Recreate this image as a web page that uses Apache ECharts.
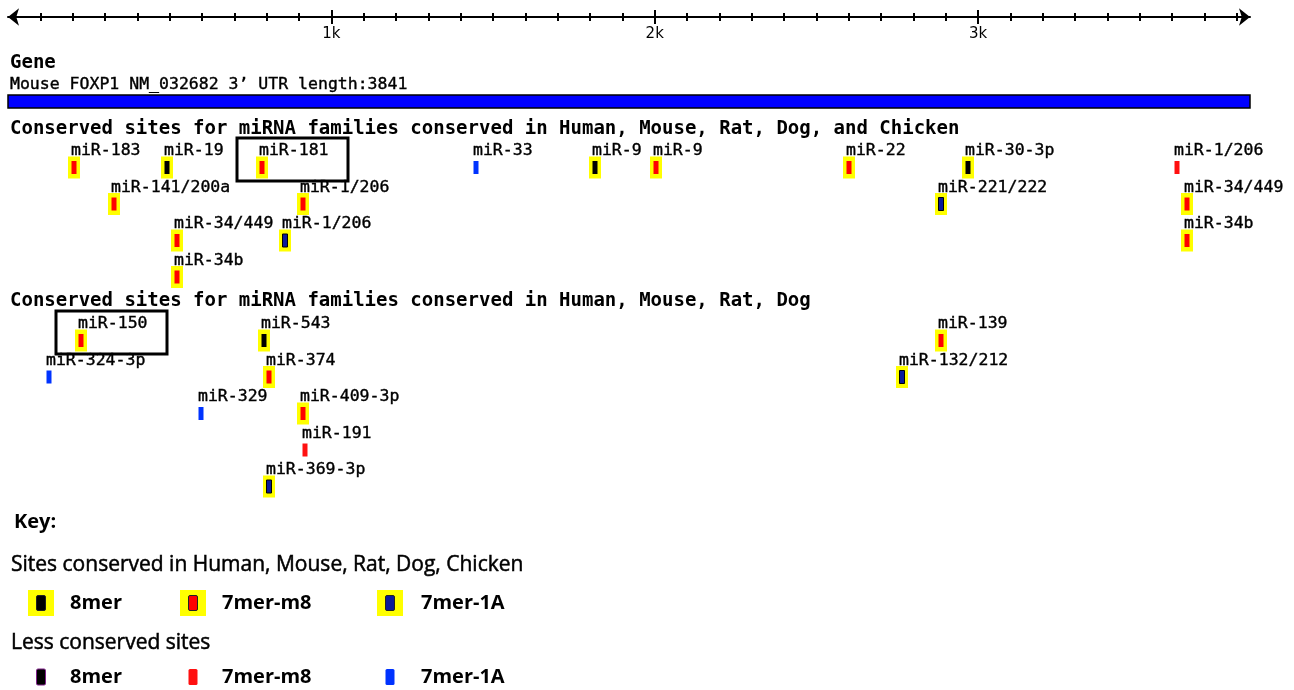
<!DOCTYPE html>
<html>
<head>
<meta charset="utf-8">
<script src="https://cdn.jsdelivr.net/npm/echarts@6/dist/echarts.min.js"></script>
<style>
  html, body { margin: 0; padding: 0; background: #fff; }
  #chart { width: 1294px; height: 690px; }
</style>
</head>
<body>
<div id="chart"></div>
<script>
    // Chiều dài 3' UTR và các vạch trên thước
    const utrLength = 3841;
    const minorTicks = [100, 200, 300, 400, 500, 600, 700, 800, 900, 1000,
        1100, 1200, 1300, 1400, 1500, 1600, 1700, 1800, 1900, 2000,
        2100, 2200, 2300, 2400, 2500, 2600, 2700, 2800, 2900, 3000,
        3100, 3200, 3300, 3400, 3500, 3600, 3700, 3800];
    const majorTicks = [1000, 2000, 3000];
    const tickLabels = ['1k', '2k', '3k'];

    // Nhóm 1: bảo tồn ở Human, Mouse, Rat, Dog, Chicken
    const s1Names = ['miR-183', 'miR-19', 'miR-181', 'miR-33', 'miR-9', 'miR-9', 'miR-22', 'miR-30-3p', 'miR-1/206',
        'miR-141/200a', 'miR-1/206', 'miR-221/222', 'miR-34/449',
        'miR-34/449', 'miR-1/206', 'miR-34b',
        'miR-34b'];
    const s1Pos = [204, 492, 785, 1447, 1815, 2004, 2601, 2969, 3615,
        329, 912, 2885, 3646,
        524, 857, 3646,
        524];
    const s1Row = [0, 0, 0, 0, 0, 0, 0, 0, 0,
        1, 1, 1, 1,
        2, 2, 2,
        3];
    const s1Type = ['7mer-m8', '8mer', '7mer-m8', '7mer-1A', '8mer', '7mer-m8', '7mer-m8', '8mer', '7mer-m8',
        '7mer-m8', '7mer-m8', '7mer-1A', '7mer-m8',
        '7mer-m8', '7mer-1A', '7mer-m8',
        '7mer-m8'];
    const s1Conserved = [1, 1, 1, 0, 1, 1, 1, 1, 0,
        1, 1, 1, 1,
        1, 1, 1,
        1];
    const s1Boxed = ['miR-181'];

    // Nhóm 2: bảo tồn ở Human, Mouse, Rat, Dog
    const s2Names = ['miR-150', 'miR-543', 'miR-139',
        'miR-324-3p', 'miR-374', 'miR-132/212',
        'miR-329', 'miR-409-3p',
        'miR-191',
        'miR-369-3p'];
    const s2Pos = [226, 792, 2885,
        127, 807, 2765,
        597, 912,
        917,
        807];
    const s2Row = [0, 0, 0, 1, 1, 1, 2, 2, 3, 4];
    const s2Type = ['7mer-m8', '8mer', '7mer-m8',
        '7mer-1A', '7mer-m8', '7mer-1A',
        '7mer-1A', '7mer-m8',
        '7mer-m8',
        '7mer-1A'];
    const s2Conserved = [1, 1, 1, 0, 1, 1, 0, 1, 0, 1];
    const s2Boxed = ['miR-150'];

    const keyTypes = ['8mer', '7mer-m8', '7mer-1A'];

    const colorsCons = { '8mer': '#000000', '7mer-m8': '#ff0000', '7mer-1A': '#0a1a9a' };
    const colorsLess = { '8mer': '#000000', '7mer-m8': '#ff1010', '7mer-1A': '#0033ff' };
    const monoFont = '16.5px "DejaVu Sans Mono"';
    const monoBold = 'bold 19px "DejaVu Sans Mono"';

    function siteRenderer(names, types, cons, boxed) {
        return function (params, api) {
            const i = params.dataIndex;
            const p = api.coord([api.value(0), api.value(1)]);
            const x = Math.round(p[0]);
            const y = p[1];
            const my = y + 16.5;
            const kids = [];
            const c = cons[i] ? colorsCons[types[i]] : colorsLess[types[i]];
            if (cons[i]) {
                kids.push({ type: 'rect', shape: { x: x - 6, y: my - 11, width: 12, height: 22 }, style: { fill: '#ffff00' } });
            }
            kids.push({ type: 'rect', shape: { x: x - 2.5, y: my - 6.5, width: 5, height: 13 },
                style: { fill: c, stroke: cons[i] && types[i] === '7mer-1A' ? '#000' : null, lineWidth: 1 } });
            kids.push({ type: 'text', style: { text: names[i], x: x - 3, y: y, font: monoFont, fill: '#000',
                stroke: '#000', lineWidth: 0.4, verticalAlign: 'middle', align: 'left' } });
            if (boxed.includes(names[i])) {
                kids.push({ type: 'rect', shape: { x: x - 25, y: y - 13, width: 111, height: 43 },
                    style: { fill: 'none', stroke: '#000', lineWidth: 3 } });
            }
            return { type: 'group', children: kids };
        };
    }

    function rulerAxis(values, inside, len, extra) {
        return Object.assign({
            gridIndex: 0, type: 'value', position: 'top', min: 0, max: utrLength,
            splitLine: { show: false },
            axisLine: { show: false, onZero: false },
            axisLabel: { show: false },
            axisTick: { show: true, inside: inside, length: len, customValues: values, lineStyle: { color: '#000', width: 2 } }
        }, extra || {});
    }

    function textEl(text, x, y, font, stroke) {
        return { type: 'text', x: x, y: y, style: { text: text, font: font, fill: '#000',
            stroke: stroke ? '#000' : null, lineWidth: stroke || 0, verticalAlign: 'middle' } };
    }

    // Phần chú thích (Key)
    const keyBoxX = [28, 180, 377];
    const keyTextX = [70, 222, 421];
    const keyEls = [
        textEl('Key:', 14, 522, 'bold 20px "Open Sans"'),
        textEl('Sites conserved in Human, Mouse, Rat, Dog, Chicken', 11, 565, '21px "Open Sans"', 0.5),
        textEl('Less conserved sites', 11, 643, '21px "Open Sans"', 0.5)
    ];
    keyTypes.forEach((t, k) => {
        keyEls.push({ type: 'rect', shape: { x: keyBoxX[k], y: 590, width: 26, height: 26 }, style: { fill: '#ffff00' } });
        keyEls.push({ type: 'rect', shape: { x: keyBoxX[k] + 8.5, y: 595.5, width: 9, height: 15, r: 1.5 },
            style: { fill: colorsCons[t], stroke: '#222', lineWidth: 1 } });
        keyEls.push(textEl(t, keyTextX[k], 603, 'bold 20px "Open Sans"'));
        keyEls.push({ type: 'rect', shape: { x: keyBoxX[k] + 8.5, y: 669, width: 9, height: 16, r: 1.5 },
            style: { fill: colorsLess[t], stroke: t === '8mer' ? '#80208a' : null, lineWidth: 1 } });
        keyEls.push(textEl(t, keyTextX[k], 677, 'bold 20px "Open Sans"'));
    });

    const myChart = echarts.init(document.getElementById('chart'), null, { renderer: 'canvas' });
    const option = {
        animation: false,
        backgroundColor: '#fff',
        grid: [
            { left: 8, width: 1242, top: 17, height: 91 },
            { left: 8, width: 1242, top: 132.75, height: 146 },
            { left: 8, width: 1242, top: 305.75, height: 182.5 }
        ],
        xAxis: [
            rulerAxis(minorTicks, false, 4, {
                axisLine: { show: true, onZero: false, symbol: ['arrow', 'arrow'], symbolSize: [13, 11], lineStyle: { color: '#000', width: 2 } },
                axisLabel: { show: true, inside: true, margin: 10, customValues: majorTicks,
                    formatter: v => tickLabels[majorTicks.indexOf(v)] || '',
                    color: '#000', fontSize: 15, fontFamily: 'DejaVu Sans' }
            }),
            rulerAxis(minorTicks, true, 4),
            rulerAxis(majorTicks, false, 7),
            rulerAxis(majorTicks, true, 7),
            { gridIndex: 1, type: 'value', min: 0, max: utrLength, show: false },
            { gridIndex: 2, type: 'value', min: 0, max: utrLength, show: false }
        ],
        yAxis: [
            { gridIndex: 0, type: 'value', min: 0, max: 1, show: false },
            { gridIndex: 1, type: 'value', min: -0.5, max: 3.5, inverse: true, show: false },
            { gridIndex: 2, type: 'value', min: -0.5, max: 4.5, inverse: true, show: false }
        ],
        graphic: [
            textEl('Gene', 10, 63, monoBold),
            textEl('Mouse FOXP1 NM_032682 3’ UTR length:' + utrLength, 10, 85, monoFont, 0.4),
            textEl('Conserved sites for miRNA families conserved in Human, Mouse, Rat, Dog, and Chicken', 10, 129, monoBold),
            textEl('Conserved sites for miRNA families conserved in Human, Mouse, Rat, Dog', 10, 301, monoBold)
        ].concat(keyEls),
        series: [
            {
                type: 'custom', xAxisIndex: 0, yAxisIndex: 0, silent: true,
                data: [[0, utrLength]],
                renderItem: (params, api) => {
                    const a = api.coord([api.value(0), 0]);
                    const b = api.coord([api.value(1), 0]);
                    return { type: 'rect', shape: { x: a[0], y: a[1] - 13, width: b[0] - a[0], height: 13 },
                        style: { fill: '#0000ff', stroke: '#000', lineWidth: 1.5 } };
                }
            },
            {
                type: 'custom', xAxisIndex: 4, yAxisIndex: 1, silent: true,
                data: s1Pos.map((p, i) => [p, s1Row[i]]),
                renderItem: siteRenderer(s1Names, s1Type, s1Conserved, s1Boxed)
            },
            {
                type: 'custom', xAxisIndex: 5, yAxisIndex: 2, silent: true,
                data: s2Pos.map((p, i) => [p, s2Row[i]]),
                renderItem: siteRenderer(s2Names, s2Type, s2Conserved, s2Boxed)
            }
        ]
    };
    myChart.setOption(option);
    window.addEventListener('resize', () => myChart.resize());
</script>
</body>
</html>
